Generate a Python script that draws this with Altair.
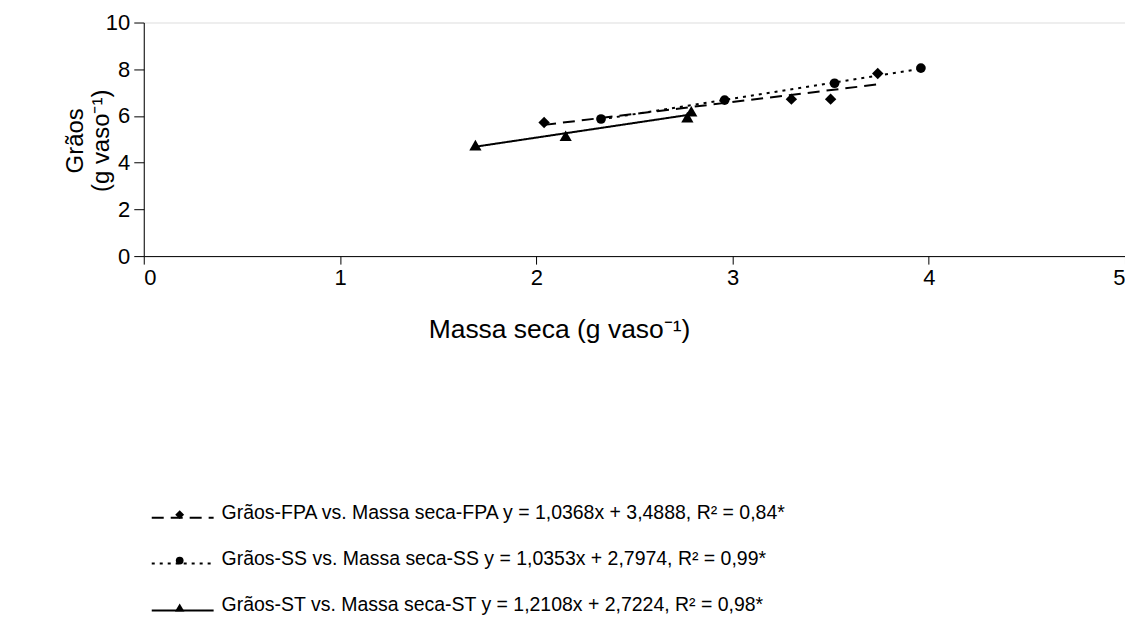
import altair as alt
import pandas as pd

# ---- data ----
fpa_x = [2.04, 3.30, 3.50, 3.74]
fpa_y = [5.72, 6.72, 6.72, 7.82]
ss_x = [2.33, 2.96, 3.52, 3.96]
ss_y = [5.87, 6.68, 7.40, 8.05]
st_x = [1.69, 2.15, 2.77, 2.79]
st_y = [4.75, 5.15, 5.95, 6.20]

series_names = ["FPA", "SS", "ST"]
legend_labels = [
    "Grãos-FPA vs. Massa seca-FPA y = 1,0368x + 3,4888, R² = 0,84*",
    "Grãos-SS vs. Massa seca-SS y = 1,0353x + 2,7974, R² = 0,99*",
    "Grãos-ST vs. Massa seca-ST y = 1,2108x + 2,7224, R² = 0,98*",
]
x_ticks = [0, 1, 2, 3, 4, 5]
y_ticks = [0, 2, 4, 6, 8, 10]

shapes = ["diamond", "circle", "triangle-up"]
dashes = [[12, 7], [3, 5], [1, 0]]
sizes = [130, 95, 150]
leg_sizes = [80, 60, 90]

FONT = "Liberation Sans"

xs = [fpa_x, ss_x, st_x]
ys = [fpa_y, ss_y, st_y]

x_scale = alt.Scale(domain=[0, 5], nice=False, zero=False)
y_scale = alt.Scale(domain=[0, 10], nice=False)
x_axis = alt.Axis(values=x_ticks, title="Massa seca (g vaso⁻¹)", grid=False,
                  labelFontSize=22, titleFontSize=26.5, titleFontWeight="normal",
                  labelPadding=3, tickSize=8, domainColor="#000", domainWidth=1,
                  tickColor="#000", labelColor="#000", titleColor="#000",
                  labelFont=FONT, titleFont=FONT,
                  titleX=416, titleY=74, titleAlign="center", titleBaseline="middle")
y_axis = alt.Axis(values=y_ticks, title=["Grãos", "(g vaso⁻¹)"], grid=False,
                  labelFontSize=22, titleFontSize=24, titleFontWeight="normal",
                  labelPadding=4, tickSize=10, domainColor="#000", domainWidth=1,
                  tickColor="#000", labelColor="#000", titleColor="#000",
                  labelFont=FONT, titleFont=FONT,
                  titleX=-56, titleY=118, titleLineHeight=26)

layers = []
for i, name in enumerate(series_names):
    df = pd.DataFrame({"x": xs[i], "y": ys[i], "series": name})
    base = alt.Chart(df)
    line = base.transform_regression("x", "y").mark_line(
        color="black", strokeWidth=2, strokeDash=dashes[i]
    ).encode(
        x=alt.X("x:Q", scale=x_scale, axis=x_axis),
        y=alt.Y("y:Q", scale=y_scale, axis=y_axis),
    )
    pts = base.mark_point(shape=shapes[i], filled=True, color="black", size=sizes[i], opacity=1).encode(
        x=alt.X("x:Q", scale=x_scale, axis=x_axis),
        y=alt.Y("y:Q", scale=y_scale, axis=y_axis),
    )
    layers += [line, pts]

# ---- custom legend below the plot ----
leg_line_y = [496, 542, 589]
for i in range(3):
    ldf = pd.DataFrame({"label": [legend_labels[i]]})
    lb = alt.Chart(ldf)
    layers.append(lb.mark_rule(color="black", strokeWidth=2, strokeDash=dashes[i]).encode(
        x=alt.value(8), x2=alt.value(70), y=alt.value(leg_line_y[i])))
    layers.append(lb.mark_point(shape=shapes[i], filled=True, color="black", size=leg_sizes[i], opacity=1).encode(
        x=alt.value(36), y=alt.value(leg_line_y[i] - 3)))
    layers.append(lb.mark_text(align="left", baseline="alphabetic", fontSize=19.5, font=FONT, color="black").encode(
        x=alt.value(78), y=alt.value(leg_line_y[i] + 1), text="label:N"))

chart = alt.layer(*layers).properties(
    width=983, height=234,
    autosize=alt.AutoSizeParams(type="none"),
    padding={"left": 136, "top": 14, "right": 0, "bottom": 370},
).configure_view(stroke=None).configure(background="white")

chart.save("out.html", embed_options={"renderer": "svg", "actions": False})
